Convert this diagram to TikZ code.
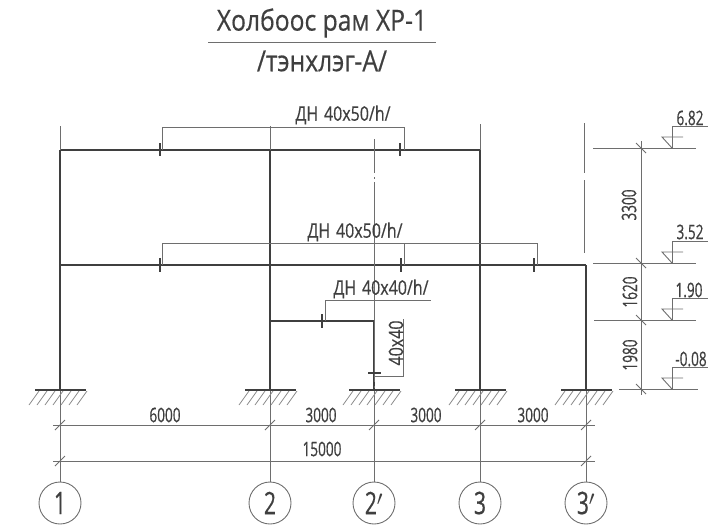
\documentclass[tikz,border=0pt]{standalone}
\usepackage{fontspec}
\setmainfont{Open Sans}
\newfontfamily\titlefont[FakeStretch=0.85, FakeBold=0.4]{Open Sans}
\newfontfamily\dimfont[FakeStretch=0.68, FakeBold=0.5]{Open Sans}
\newfontfamily\beamfont[FakeStretch=0.8, FakeBold=0.4, WordSpace=1.4]{Open Sans}
\usetikzlibrary{positioning}
\definecolor{inkdark}{HTML}{3F3F3F}
\definecolor{inkthin}{HTML}{6E6E6E}
\tikzset{
	framebar/.style={draw=inkdark, line width={1.5pt}},
	thinbar/.style={draw=inkthin, line width={0.9pt}},
	axisbar/.style={draw=inkthin, line width={0.9pt}, dash pattern=on 34pt off 4pt on 2pt off 3pt on 200pt off 4pt on 2pt off 3pt on 300pt},
	groundbar/.style={draw=inkdark, line width={1.3pt}},
	hatchbar/.style={draw=inkthin!80, line width={0.8pt}},
	tickbar/.style={draw=inkdark, line width={1.6pt}},
	titlelabel/.style={font={\titlefont\fontsize{29}{29}\selectfont}, text=inkdark, inner sep=0pt},
	dimlabel/.style={font={\dimfont\fontsize{20}{20}\selectfont}, text=inkdark, inner sep=0pt},
	beamlabel/.style={font={\beamfont\fontsize{20}{20}\selectfont}, text=inkdark, inner sep=0pt},
	axislabel/.style={draw=inkthin, line width={0.9pt}, circle, minimum size=42pt, inner sep=0pt, text=inkdark, font={\dimfont\fontsize{31}{31}\selectfont}},
}
\begin{document}
\begin{tikzpicture}[x=1pt, y=-1pt]
	\useasboundingbox (0,0) rectangle (712,527);
	\node[titlelabel] (title-top) at (322, 23) {Холбоос рам ХР-1};
	\node[titlelabel] (title-bottom) at (322, 61) {/тэнхлэг-А/};
	\coordinate (title-left) at (208, 42);
	\coordinate (title-right) at (436, 42);
	\draw[thinbar] (title-left) to (title-right);
	\node[axislabel] (axis-0) at ( 60, 503) {1};
	\node[axislabel] (axis-1) at (270, 503) {2};
	\node[axislabel] (axis-2) at (374, 503) {2$'$};
	\node[axislabel] (axis-3) at (480, 503) {3};
	\node[axislabel] (axis-4) at (586, 503) {3$'$};
	\coordinate (top-0) at ( 60, 126);
	\coordinate (top-1) at (270, 126);
	\coordinate (top-2) at (374, 139);
	\coordinate (top-3) at (480, 124);
	\coordinate (roof-0) at ( 60, 150);
	\coordinate (roof-1) at (270, 150);
	\coordinate (roof-3) at (480, 150);
	\coordinate (mid-0) at ( 60, 265);
	\coordinate (mid-4) at (586, 265);
	\coordinate (low-1) at (270, 321);
	\coordinate (low-2) at (374, 321);
	\coordinate (foot-0) at ( 60, 390);
	\coordinate (foot-1) at (270, 390);
	\coordinate (foot-2) at (374, 390);
	\coordinate (foot-3) at (480, 390);
	\coordinate (foot-4) at (586, 390);
	\draw[framebar] (roof-0) to (roof-3);
	\draw[framebar] (mid-0) to (mid-4);
	\draw[framebar] (low-1) to (low-2);
	\draw[framebar] (roof-0) to (foot-0);
	\draw[framebar] (roof-1) to (foot-1);
	\draw[framebar] (low-2) to (foot-2);
	\draw[framebar] (roof-3) to (foot-3);
	\draw[framebar] (mid-4) to (foot-4);
	\draw[thinbar] (top-0) to (roof-0);
	\draw[thinbar] (top-1) to (roof-1);
	\draw[thinbar] (top-3) to (roof-3);
	\draw[axisbar] (top-2) to (axis-2);
	\draw[thinbar] (foot-0) to (axis-0);
	\draw[thinbar] (foot-1) to (axis-1);
	\draw[thinbar] (foot-3) to (axis-3);
	\draw[thinbar] (foot-4) to (axis-4);
	\foreach \name/\xpos in {0/60, 1/270, 2/374, 3/480, 4/586} {
		\draw[groundbar] ([xshift=-25pt]foot-\name) to ([xshift=26pt]foot-\name);
		\foreach \step in {0,1,2,3,4,5,6} {
			\draw[hatchbar] (\xpos-21+\step*8, 391) to (\xpos-31+\step*8, 405);
		}
	}
	\coordinate (tick-0-0) at (160, 143);
	\coordinate (tick-0-1) at (160, 156);
	\coordinate (tick-1-0) at (400, 143);
	\coordinate (tick-1-1) at (400, 156);
	\coordinate (tick-2-0) at (160, 258);
	\coordinate (tick-2-1) at (160, 272);
	\coordinate (tick-3-0) at (401, 258);
	\coordinate (tick-3-1) at (401, 272);
	\coordinate (tick-4-0) at (534, 258);
	\coordinate (tick-4-1) at (534, 272);
	\coordinate (tick-5-0) at (322, 314);
	\coordinate (tick-5-1) at (322, 328);
	\coordinate (tick-6-0) at (368, 373);
	\coordinate (tick-6-1) at (381, 373);
	\draw[tickbar] (tick-0-0) to (tick-0-1);
	\draw[tickbar] (tick-1-0) to (tick-1-1);
	\draw[tickbar] (tick-2-0) to (tick-2-1);
	\draw[tickbar] (tick-3-0) to (tick-3-1);
	\draw[tickbar] (tick-4-0) to (tick-4-1);
	\draw[tickbar] (tick-5-0) to (tick-5-1);
	\draw[tickbar] (tick-6-0) to (tick-6-1);
	\coordinate (lead-0-0) at (162, 150);
	\coordinate (lead-0-1) at (162, 127);
	\coordinate (lead-0-2) at (404, 127);
	\coordinate (lead-0-3) at (404, 150);
	\coordinate (lead-1-0) at (162, 265);
	\coordinate (lead-1-1) at (162, 243);
	\coordinate (lead-1-2) at (537, 243);
	\coordinate (lead-1-3) at (537, 265);
	\coordinate (lead-1-4) at (404, 243);
	\coordinate (lead-1-5) at (404, 265);
	\coordinate (lead-2-0) at (325, 321);
	\coordinate (lead-2-1) at (325, 300);
	\coordinate (lead-2-2) at (431, 300);
	\coordinate (lead-3-0) at (374, 376);
	\coordinate (lead-3-1) at (403, 376);
	\coordinate (lead-3-2) at (403, 319);
	\draw[thinbar] (lead-0-0) -- (lead-0-1) -- (lead-0-2) -- (lead-0-3);
	\draw[thinbar] (lead-1-0) -- (lead-1-1) -- (lead-1-2) -- (lead-1-3);
	\draw[thinbar] (lead-1-4) to (lead-1-5);
	\draw[thinbar] (lead-2-0) -- (lead-2-1) -- (lead-2-2);
	\draw[thinbar] (lead-3-0) -- (lead-3-1) -- (lead-3-2);
	\node[beamlabel] (beam-0) at (343, 115) {ДН 40x50/h/};
	\node[beamlabel] (beam-1) at (355, 232) {ДН 40x50/h/};
	\node[beamlabel] (beam-2) at (381, 289) {ДН 40x40/h/};
	\node[beamlabel, rotate=90] (beam-3) at (396, 343) {40x40};
	\coordinate (break-0) at (584, 123);
	\coordinate (break-1) at (584, 253);
	\draw[thinbar, dash pattern=on 50pt off 7pt on 80pt] (break-0) to (break-1);
	\coordinate (dim-0-0) at (53, 425);
	\coordinate (dim-0-1) at (595, 425);
	\coordinate (dim-1-0) at (53, 461);
	\coordinate (dim-1-1) at (595, 461);
	\draw[thinbar] (dim-0-0) to (dim-0-1);
	\draw[thinbar] (dim-1-0) to (dim-1-1);
	\foreach \xpos/\ypos in {60/425, 270/425, 374/425, 480/425, 586/425, 60/461, 586/461} {
		\draw[thinbar] (\xpos-5, \ypos+5) to (\xpos+5, \ypos-5);
	}
	\node[dimlabel] (span-0) at (165, 415) {6000};
	\node[dimlabel] (span-1) at (321, 415) {3000};
	\node[dimlabel] (span-2) at (426, 415) {3000};
	\node[dimlabel] (span-3) at (533, 415) {3000};
	\node[dimlabel] (span-4) at (322, 449) {15000};
	\coordinate (level-0-0) at (593, 148);
	\coordinate (level-0-1) at (696, 148);
	\coordinate (level-1-0) at (593, 263);
	\coordinate (level-1-1) at (696, 263);
	\coordinate (level-2-0) at (594, 320);
	\coordinate (level-2-1) at (696, 320);
	\coordinate (level-3-0) at (619, 389);
	\coordinate (level-3-1) at (698, 389);
	\coordinate (height-0) at (641, 141);
	\coordinate (height-1) at (641, 395);
	\draw[thinbar] (level-0-0) to (level-0-1);
	\draw[thinbar] (level-1-0) to (level-1-1);
	\draw[thinbar] (level-2-0) to (level-2-1);
	\draw[thinbar] (level-3-0) to (level-3-1);
	\draw[thinbar] (height-0) to (height-1);
	\foreach \ypos in {148, 263, 320, 389} {
		\draw[thinbar] (636, \ypos-5) to (646, \ypos+5);
		\draw[thinbar] (672, \ypos) -- (672, \ypos-22) -- (708, \ypos-22);
		\draw[thinbar] (683, \ypos-11) -- (662, \ypos-11) -- (672, \ypos);
	}
	\node[dimlabel, rotate=90] (height-label-0) at (629, 205) {3300};
	\node[dimlabel, rotate=90] (height-label-1) at (630, 292) {1620};
	\node[dimlabel, rotate=90] (height-label-2) at (630, 355) {1980};
	\node[dimlabel] (level-label-0) at (690, 118) {6.82};
	\node[dimlabel] (level-label-1) at (690, 232) {3.52};
	\node[dimlabel] (level-label-2) at (689, 290) {1.90};
	\node[dimlabel] (level-label-3) at (691, 359) {-0.08};
\end{tikzpicture}
\end{document}
